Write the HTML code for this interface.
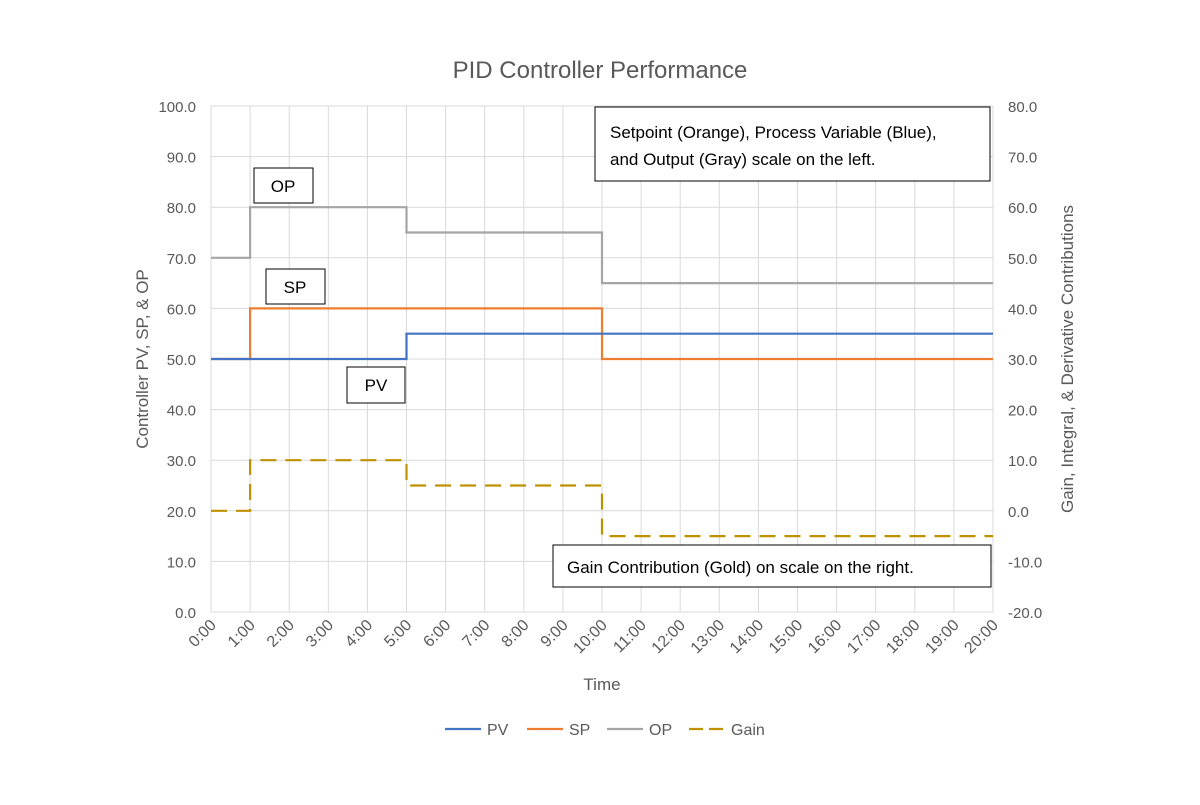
<!DOCTYPE html>
<html><head><meta charset="utf-8"><style>
body{margin:0;background:#fff;font-family:"Liberation Sans",sans-serif}
svg text{font-family:"Liberation Sans",sans-serif;fill:#595959}
</style></head><body>
<svg id="c" width="1200" height="800" viewBox="0 0 1200 800">
<text x="600" y="78" text-anchor="middle" font-size="24">PID Controller Performance</text>
<g id="grid"></g><g id="series"></g><g id="axes"></g>
<text transform="translate(148,359) rotate(-90)" text-anchor="middle" font-size="17">Controller PV, SP, &amp; OP</text>
<text transform="translate(1073,359) rotate(-90)" text-anchor="middle" font-size="17">Gain, Integral, &amp; Derivative Contributions</text>
<text x="602" y="690" text-anchor="middle" font-size="17">Time</text>
<g><rect x="595" y="107" width="395" height="74" fill="#fff" stroke="#000"/><text x="610" y="138" font-size="17" style="fill:#000">Setpoint (Orange), Process Variable (Blue),</text><text x="610" y="165" font-size="17" style="fill:#000">and Output (Gray) scale on the left.</text></g>
<g><rect x="553" y="545" width="438" height="42" fill="#fff" stroke="#000"/><text x="567" y="573" font-size="17" style="fill:#000">Gain Contribution (Gold) on scale on the right.</text></g>
<g><rect x="254" y="168" width="59" height="35" fill="#fff" stroke="#000"/><text x="283" y="192" text-anchor="middle" font-size="17" style="fill:#000">OP</text></g>
<g><rect x="266" y="269" width="59" height="35" fill="#fff" stroke="#000"/><text x="295" y="293" text-anchor="middle" font-size="17" style="fill:#000">SP</text></g>
<g><rect x="347" y="367" width="58" height="36" fill="#fff" stroke="#000"/><text x="376" y="391" text-anchor="middle" font-size="17" style="fill:#000">PV</text></g>
<g id="legend"></g>
</svg>
<script>
const times=["0:00","1:00","2:00","3:00","4:00","5:00","6:00","7:00","8:00","9:00","10:00","11:00","12:00","13:00","14:00","15:00","16:00","17:00","18:00","19:00","20:00"];
const pv=[50,50,50,50,50,55,55,55,55,55,55,55,55,55,55,55,55,55,55,55,55];
const sp=[50,60,60,60,60,60,60,60,60,60,50,50,50,50,50,50,50,50,50,50,50];
const op=[70,80,80,80,80,75,75,75,75,75,65,65,65,65,65,65,65,65,65,65,65];
const gain=[0,10,10,10,10,5,5,5,5,5,-5,-5,-5,-5,-5,-5,-5,-5,-5,-5,-5];
const leftTicks=[0,10,20,30,40,50,60,70,80,90,100];
const rightTicks=[-20,-10,0,10,20,30,40,50,60,70,80];
const NS="http://www.w3.org/2000/svg";
const X0=211,X1=993,Y0=612,Y1=106;
const xs=i=>X0+(X1-X0)*i/(times.length-1);
const yl=v=>Y0-(Y0-Y1)*(v-0)/100;
const yr=v=>Y0-(Y0-Y1)*(v+20)/100;
function mk(t,a,p){const e=document.createElementNS(NS,t);for(const k in a)e.setAttribute(k,a[k]);p.appendChild(e);return e;}
const grid=document.getElementById('grid'),axes=document.getElementById('axes'),ser=document.getElementById('series');
leftTicks.forEach((v,i)=>{
 const l=mk('line',{x1:X0,x2:X1,y1:yl(v),y2:yl(v),stroke:'#d9d9d9','stroke-width':1},grid);
 
 
 const t=mk('text',{x:196,y:yl(v)+6,'text-anchor':'end','font-size':15},axes);t.textContent=v.toFixed(1);
 
 
});
rightTicks.forEach(v=>{
 const t=mk('text',{x:1008,y:yr(v)+6,'text-anchor':'start','font-size':15},axes);t.textContent=v.toFixed(1);
 
 
});
times.forEach((s,i)=>{
 const l=mk('line',{x1:xs(i),x2:xs(i),y1:Y1,y2:Y0,stroke:'#d9d9d9','stroke-width':1},grid);
 
 
 const x=xs(i)+6,y=626;
 const t=mk('text',{x:x,y:y,'text-anchor':'end','font-size':16,transform:`rotate(-45 ${x} ${y})`},axes);t.textContent=s;
 
 
});
function step(vals,yf){let d=`M${xs(0)},${yf(vals[0])}`;for(let i=1;i<vals.length;i++){d+=`L${xs(i)},${yf(vals[i-1])}L${xs(i)},${yf(vals[i])}`;}return d;}
[[op,yl,'#a5a5a5',null,'series-op'],[sp,yl,'#ed7d31',null,'series-sp'],[pv,yl,'#4472c4',null,'series-pv'],[gain,yr,'#bf9000','16 9','series-gain']].forEach(s=>{
 const a={d:step(s[0],s[1]),fill:'none',stroke:s[2],'stroke-width':2.2};if(s[3])a['stroke-dasharray']=s[3];
 const p=mk('path',a,ser);
 
 
});
const lg=document.getElementById('legend');
[['PV','#4472c4',null,445],['SP','#ed7d31',null,527],['OP','#a5a5a5',null,607],['Gain','#bf9000','14 6',689]].forEach(e=>{
 const g=mk('g',{},lg);
 
 
 const a={x1:e[3],x2:e[3]+36,y1:729,y2:729,stroke:e[1],'stroke-width':2.2};if(e[2])a['stroke-dasharray']=e[2];
 mk('line',a,g);
 const t=mk('text',{x:e[3]+42,y:735,'font-size':16},g);t.textContent=e[0];
});
</script>
</body></html>
